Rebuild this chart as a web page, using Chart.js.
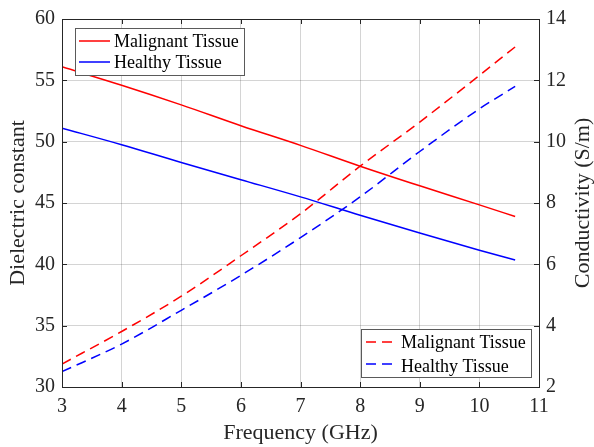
<!DOCTYPE html>
<html>
<head>
<meta charset="utf-8">
<script src="https://cdn.jsdelivr.net/npm/chart.js@4.4.1/dist/chart.umd.min.js"></script>
<style>
  body { margin: 0; background: #fff; }
  #wrap { width: 594px; height: 447px; }
</style>
</head>
<body>
<div id="wrap"><canvas id="tissueChart" width="594" height="447"></canvas></div>
<script>
// frequency points (GHz)
const freqGHz = [3, 4, 5, 6, 7, 8, 9, 10, 10.6];
// dielectric constant (left axis)
const malignantEps = [56.1, 54.6, 53.0, 51.3, 49.7, 48.0, 46.4, 44.85, 43.9];
const healthyEps   = [51.1, 49.75, 48.3, 46.9, 45.5, 44.0, 42.55, 41.15, 40.35];
// conductivity S/m (right axis)
const malignantSigma = [2.75, 3.81, 4.96, 6.28, 7.65, 9.2, 10.64, 12.16, 13.09];
const healthySigma   = [2.5, 3.4, 4.5, 5.64, 6.87, 8.2, 9.68, 11.07, 11.8];

const seriesNames = ['Malignant Tissue', 'Healthy Tissue'];
const xTitle = 'Frequency (GHz)';
const yLeftTitle = 'Dielectric constant';
const yRightTitle = 'Conductivity (S/m)';

const SERIF = '"Liberation Serif", "DejaVu Serif", serif';
const INK = '#262626';

function pts(ys) {
  return freqGHz.map((f, i) => ({x: f, y: ys[i]}));
}

// MATLAB-ish frame: box, inward ticks, two legends and the right axis title
const matlabFrame = {
  id: 'matlabFrame',
  afterDraw(chart) {
    const ctx = chart.ctx;
    const a = chart.chartArea;
    const sx = chart.scales.x, yl = chart.scales.yEps, yr = chart.scales.ySigma;
    ctx.save();
    ctx.strokeStyle = INK;
    ctx.lineWidth = 1;
    ctx.strokeRect(Math.round(a.left) + 0.5, Math.round(a.top) + 0.5,
                   Math.round(a.right - a.left), Math.round(a.bottom - a.top));
    const tl = 5;
    ctx.beginPath();
    sx.ticks.forEach(t => {
      const px = Math.round(sx.getPixelForValue(t.value)) + 0.5;
      ctx.moveTo(px, a.bottom); ctx.lineTo(px, a.bottom - tl);
      ctx.moveTo(px, a.top); ctx.lineTo(px, a.top + tl);
    });
    yl.ticks.forEach(t => {
      const py = Math.round(yl.getPixelForValue(t.value)) + 0.5;
      ctx.moveTo(a.left, py); ctx.lineTo(a.left + tl, py);
    });
    yr.ticks.forEach(t => {
      const py = Math.round(yr.getPixelForValue(t.value)) + 0.5;
      ctx.moveTo(a.right, py); ctx.lineTo(a.right - tl, py);
    });
    ctx.stroke();

    // right axis title, reading upwards like the left one
    ctx.fillStyle = INK;
    ctx.font = '22px ' + SERIF;
    ctx.textAlign = 'center';
    ctx.textBaseline = 'middle';
    ctx.translate(583, (a.top + a.bottom) / 2);
    ctx.rotate(-Math.PI / 2);
    ctx.fillText(yRightTitle, 0, 0);
    ctx.restore();

    const ds = chart.data.datasets;
    drawLegend(ctx, [ds[0], ds[1]], {x: 75, y: 28, w: 169, h: 47, lx: 79, lw: 31, tx: 114, rows: [41, 62], base: [46.5, 68]});
    drawLegend(ctx, [ds[2], ds[3]], {x: 361, y: 329, w: 170, h: 48, lx: 366, lw: 27, tx: 401, rows: [342, 364], base: [348, 371.5]});
  }
};

function drawLegend(ctx, items, b) {
  ctx.save();
  ctx.fillStyle = '#fff';
  ctx.fillRect(b.x, b.y, b.w, b.h);
  ctx.strokeStyle = '#5a5a5a';
  ctx.lineWidth = 1;
  ctx.strokeRect(b.x + 0.5, b.y + 0.5, b.w, b.h);
  ctx.font = '18px ' + SERIF;
  ctx.textAlign = 'left';
  ctx.textBaseline = 'alphabetic';
  items.forEach((d, i) => {
    ctx.strokeStyle = d.borderColor;
    ctx.lineWidth = d.borderWidth;
    ctx.setLineDash(d.borderDash || []);
    ctx.beginPath();
    ctx.moveTo(b.lx, b.rows[i]); ctx.lineTo(b.lx + b.lw, b.rows[i]);
    ctx.stroke();
    ctx.setLineDash([]);
    ctx.fillStyle = '#000';
    ctx.fillText(d.label, b.tx, b.base[i]);
  });
  ctx.restore();
}

const lineStyle = {fill: false, pointRadius: 0, borderWidth: 1.5, cubicInterpolationMode: 'monotone'};

new Chart(document.getElementById('tissueChart'), {
  type: 'line',
  data: {
    datasets: [
      Object.assign({label: seriesNames[0], data: pts(malignantEps), borderColor: '#ff0000', yAxisID: 'yEps'}, lineStyle),
      Object.assign({label: seriesNames[1], data: pts(healthyEps), borderColor: '#0000ff', yAxisID: 'yEps'}, lineStyle),
      Object.assign({label: seriesNames[0], data: pts(malignantSigma), borderColor: '#ff0000', borderDash: [10, 6], yAxisID: 'ySigma'}, lineStyle),
      Object.assign({label: seriesNames[1], data: pts(healthySigma), borderColor: '#0000ff', borderDash: [10, 6], yAxisID: 'ySigma'}, lineStyle)
    ]
  },
  options: {
    responsive: false,
    animation: false,
    layout: { padding: {top: 15, left: 0, right: 0, bottom: 0} },
    plugins: {
      legend: { display: false },
      tooltip: { enabled: false }
    },
    scales: {
      x: {
        type: 'linear',
        min: 3, max: 11,
        afterFit: s => { s.height = 60; },
        border: { display: false },
        grid: { color: 'rgba(0,0,0,0.17)', lineWidth: 1, drawTicks: false },
        ticks: { stepSize: 1, padding: 8, color: INK, font: {family: SERIF, size: 20} },
        title: { display: true, text: xTitle, color: INK, font: {family: SERIF, size: 22}, padding: {top: 0, bottom: 1} }
      },
      yEps: {
        type: 'linear',
        position: 'left',
        min: 30, max: 60,
        afterFit: s => { s.width = 62; },
        border: { display: false },
        grid: { color: 'rgba(0,0,0,0.17)', lineWidth: 1, drawTicks: false },
        ticks: { stepSize: 5, padding: 7, color: INK, font: {family: SERIF, size: 20} },
        title: { display: true, text: yLeftTitle, color: INK, font: {family: SERIF, size: 22}, padding: {top: 5, bottom: 0} }
      },
      ySigma: {
        type: 'linear',
        position: 'right',
        min: 2, max: 14,
        afterFit: s => { s.width = 55; },
        border: { display: false },
        grid: { drawOnChartArea: false, drawTicks: false },
        ticks: { stepSize: 2, padding: 7, color: INK, font: {family: SERIF, size: 20} }
      }
    }
  },
  plugins: [matlabFrame]
});
</script>
</body>
</html>
